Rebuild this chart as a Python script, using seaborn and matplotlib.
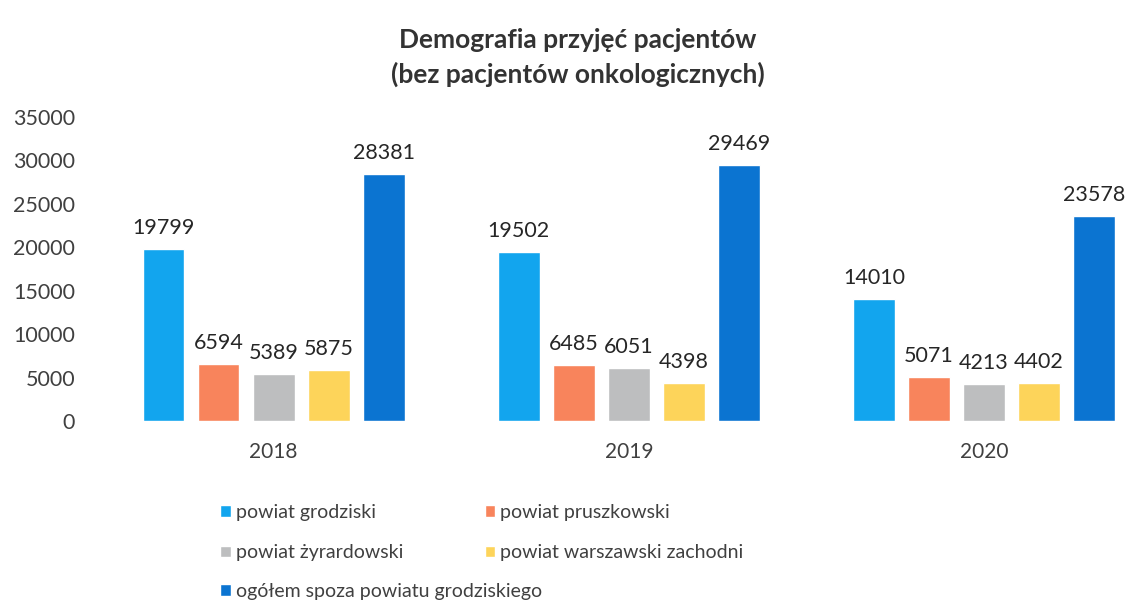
import matplotlib
matplotlib.use("Agg")
import matplotlib.pyplot as plt
import seaborn as sns
import pandas as pd

# Data
years = ["2018", "2019", "2020"]
series = [
    "powiat grodziski",
    "powiat pruszkowski",
    "powiat żyrardowski",
    "powiat warszawski zachodni",
    "ogółem spoza powiatu grodziskiego",
]
grodziski = [19799, 19502, 14010]
pruszkowski = [6594, 6485, 5071]
zyrardowski = [5389, 6051, 4213]
warszawski_zach = [5875, 4398, 4402]
ogolem_spoza = [28381, 29469, 23578]
y_ticks = [0, 5000, 10000, 15000, 20000, 25000, 30000, 35000]

colors = ["#12A5EE", "#F8845C", "#BDBEBF", "#FDD45A", "#0B74D1"]

values = [grodziski, pruszkowski, zyrardowski, warszawski_zach, ogolem_spoza]
df = pd.DataFrame(
    [(y, s, v[i]) for s, v in zip(series, values) for i, y in enumerate(years)],
    columns=["rok", "powiat", "liczba"],
)

sns.set_theme(style="white")
plt.rcParams["font.family"] = ["Lato", "DejaVu Sans"]

fig = plt.figure(figsize=(11.26, 6.07), dpi=100)
ax = fig.add_axes([96 / 1126, 1 - 421 / 607, 1030 / 1126, (421 - 117) / 607])

sns.barplot(
    data=df, x="rok", y="liczba", hue="powiat", hue_order=series,
    palette=colors, width=0.775, gap=0.24, saturation=1, ax=ax, legend=True,
)

for cont in ax.containers:
    ax.bar_label(cont, fmt="%d", padding=8, fontsize=15.5, color="#262626")

ax.set_ylim(0, 35000)
ax.set_xlim(-0.5, 2.4)
ax.set_yticks(y_ticks)
ax.set_yticklabels([str(t) for t in y_ticks], fontsize=15.5, color="#404040")
ax.tick_params(axis="x", labelsize=15, labelcolor="#404040", pad=15, length=0)
ax.tick_params(axis="y", pad=15, length=0)
ax.set_xlabel("")
ax.set_ylabel("")
for sp in ax.spines.values():
    sp.set_visible(False)
ax.grid(False)

# Legend: two rows of paired entries, then the summary entry on its own row
handles, labels = ax.get_legend_handles_labels()
ax.get_legend().remove()
leg_kw = dict(
    frameon=False, fontsize=14, handlelength=0.55, handleheight=0.55,
    handletextpad=0.25, labelcolor="#404040", borderaxespad=0, borderpad=0,
)
fig.legend(
    [handles[0], handles[2], handles[1], handles[3]],
    [labels[0], labels[2], labels[1], labels[3]],
    ncol=2, loc="upper left", bbox_to_anchor=(220 / 1126, 1 - 504 / 607),
    labelspacing=1.2, columnspacing=4.2, **leg_kw,
)
fig.legend(
    [handles[4]], [labels[4]],
    loc="upper left", bbox_to_anchor=(220 / 1126, 1 - 583 / 607), **leg_kw,
)

fig.suptitle(
    "Demografia przyjęć pacjentów\n(bez pacjentów onkologicznych)",
    x=578 / 1126, y=1 - 28 / 607, fontsize=19, fontweight="bold",
    color="#333333", linespacing=1.45, va="top",
)

fig.savefig("out.png", dpi=100)
